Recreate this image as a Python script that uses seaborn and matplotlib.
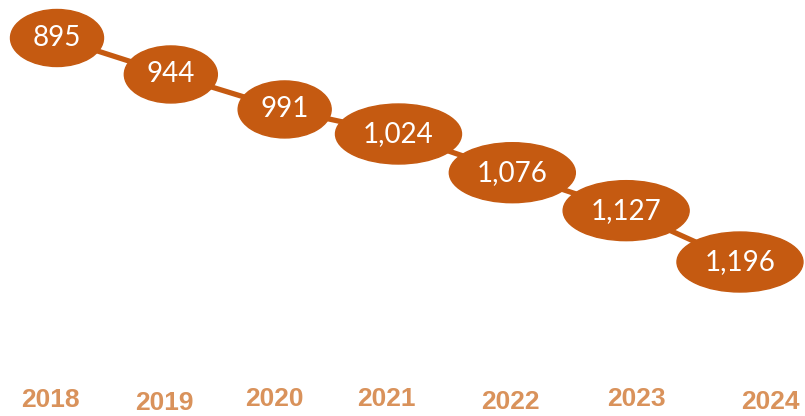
import pandas as pd
import numpy as np
import matplotlib.pyplot as plt
import seaborn as sns
from matplotlib.patches import Ellipse

# data
years = ['2018', '2019', '2020', '2021', '2022', '2023', '2024']
values = [895, 944, 991, 1024, 1076, 1127, 1196]
value_labels = ['895', '944', '991', '1,024', '1,076', '1,127', '1,196']

ORANGE = '#C55A11'
YEAR_COLOR = '#D9925B'

df = pd.DataFrame({'idx': range(len(years)), 'value': values})

sns.set_theme(style='white')
plt.rcParams['font.family'] = ['Lato', 'DejaVu Sans']

fig = plt.figure(figsize=(8.05, 4.16), dpi=100)
ax = fig.add_axes([0, 0, 1, 1])

sns.lineplot(data=df, x='idx', y='value', color=ORANGE, linewidth=3.8, ax=ax, zorder=1)

# pixel -> data scale
px_x = 113.83
px_y = 0.7442
ax.set_xlim(-57 / px_x, (805 - 57) / px_x)
ax.set_ylim(895 + 378 / px_y, 895 - 38 / px_y)

for i, (v, lab) in enumerate(zip(values, value_labels)):
    wpx, hpx = (93, 57) if len(lab) <= 3 else (126, 60)
    ax.add_patch(Ellipse((i, v), wpx / px_x, hpx / px_y, color=ORANGE, zorder=2))
    ax.text(i, v, lab, color='white', fontsize=20,
            ha='center', va='center', zorder=3)

# year labels (slightly staggered as in the original)
x_shift = [-7, -6, -10, -12, -2, 10, 30]
y_pos = [400, 403, 399, 399, 402, 399, 402]
for i, yr in enumerate(years):
    ax.annotate(yr, (i, 0), xycoords=('data', 'figure pixels'),
                xytext=(x_shift[i] * 0.72, (416 - y_pos[i]) * 0.72), textcoords='offset points',
                ha='center', va='center', fontsize=19, fontweight='bold',
                color=YEAR_COLOR, family=['Liberation Sans', 'DejaVu Sans'])

ax.axis('off')
plt.savefig('out.png', dpi=100)
